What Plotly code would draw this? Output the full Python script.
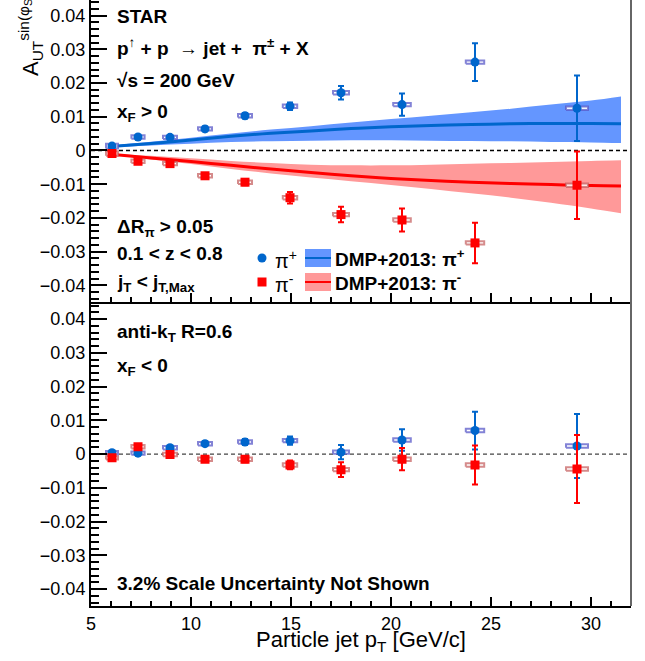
import plotly.graph_objects as go

# ---------------- data ----------------
pt = [6.05, 7.35, 8.95, 10.7, 12.7, 14.95, 17.5, 20.55, 24.2, 29.3]
pt_sys = [0.30, 0.33, 0.35, 0.35, 0.35, 0.36, 0.40, 0.44, 0.46, 0.55]

# x_F > 0
top_pip = [0.0013, 0.0040, 0.0039, 0.0064, 0.0103, 0.0131, 0.0171, 0.0136, 0.0262, 0.0125]
top_pip_stat = [0.0006, 0.0006, 0.0006, 0.0007, 0.0008, 0.0011, 0.0020, 0.0033, 0.0056, 0.0097]
top_pip_sys = [0.0007, 0.0005, 0.0005, 0.0005, 0.0005, 0.0005, 0.0005, 0.0005, 0.0005, 0.0005]
top_pim = [-0.0009, -0.0032, -0.0039, -0.0075, -0.0094, -0.0140, -0.0190, -0.0206, -0.0274, -0.0103]
top_pim_stat = [0.0006, 0.0006, 0.0007, 0.0008, 0.0009, 0.0017, 0.0023, 0.0034, 0.0060, 0.0100]
top_pim_sys = [0.0007, 0.0005, 0.0005, 0.0005, 0.0005, 0.0005, 0.0005, 0.0005, 0.0005, 0.0005]

# x_F < 0
bot_pip = [0.0004, 0.0003, 0.0019, 0.0031, 0.0036, 0.0040, 0.0006, 0.0042, 0.0070, 0.0024]
bot_pip_stat = [0.0006, 0.0006, 0.0006, 0.0007, 0.0009, 0.0012, 0.0021, 0.0032, 0.0056, 0.0095]
bot_pip_sys = [0.0005, 0.0005, 0.0005, 0.0005, 0.0005, 0.0005, 0.0005, 0.0005, 0.0005, 0.0005]
bot_pim = [-0.0011, 0.0022, -0.0001, -0.0015, -0.0015, -0.0032, -0.0046, -0.0015, -0.0032, -0.0044]
bot_pim_stat = [0.0006, 0.0006, 0.0007, 0.0008, 0.0009, 0.0013, 0.0022, 0.0033, 0.0058, 0.0101]
bot_pim_sys = [0.0005, 0.0005, 0.0005, 0.0005, 0.0005, 0.0005, 0.0005, 0.0005, 0.0005, 0.0005]

# DMP+2013 theory
th_x = [6, 8, 10, 12, 14, 16, 18, 20, 22, 24, 26, 28, 30, 31.5]
th_pip = [0.0012, 0.0021, 0.0031, 0.0042, 0.0051, 0.0058, 0.0065, 0.0070, 0.0074, 0.0077, 0.0079, 0.0080, 0.0080, 0.0079]
th_pip_hi = [0.0015, 0.0026, 0.0038, 0.0050, 0.0062, 0.0072, 0.0083, 0.0093, 0.0103, 0.0113, 0.0124, 0.0136, 0.0148, 0.0160]
th_pip_lo = [0.0010, 0.0015, 0.0020, 0.0025, 0.0027, 0.0029, 0.0030, 0.0030, 0.0029, 0.0028, 0.0027, 0.0025, 0.0024, 0.0022]
th_pim = [-0.0011, -0.0022, -0.0033, -0.0044, -0.0055, -0.0065, -0.0075, -0.0083, -0.0089, -0.0094, -0.0098, -0.0101, -0.0104, -0.0105]
th_pim_hi = [-0.0009, -0.0016, -0.0023, -0.0031, -0.0037, -0.0042, -0.0044, -0.0044, -0.0042, -0.0039, -0.0037, -0.0034, -0.0031, -0.0029]
th_pim_lo = [-0.0013, -0.0027, -0.0040, -0.0055, -0.0068, -0.0080, -0.0091, -0.0102, -0.0114, -0.0127, -0.0140, -0.0155, -0.0172, -0.0186]

# ---------------- styles ----------------
BLUE = "rgb(0,102,204)"
RED = "rgb(255,0,0)"
BLUE_BAND = "rgb(100,150,255)"
RED_BAND = "rgb(255,153,153)"
BLUE_BOX = "rgba(90,90,200,0.75)"
RED_BOX = "rgba(195,90,90,0.7)"
FONT = "Liberation Sans"

W, H = 645, 661
L, R, T, B = 91, 14, 0, 55
PW, PH = W - L - R, H - T - B
SPLIT = 303.7 / PH


def fx(p):
    return (p - L) / PW


def fy(p):
    return (PH + T - p) / PH


fig = go.Figure()


def box_trace(xs, ys, dx, dy, color, xa, ya):
    bx, by = [], []
    for x, y, w, h in zip(xs, ys, dx, dy):
        bx += [x - w, x + w, x + w, x - w, x - w, None]
        by += [y - h, y - h, y + h, y + h, y - h, None]
    return go.Scatter(x=bx, y=by, mode="lines", fill="toself", fillcolor="rgba(255,255,255,0.9)",
                      line=dict(color=color, width=2), xaxis=xa, yaxis=ya,
                      hoverinfo="skip", showlegend=False)


def pts_trace(ys, err, color, symbol, xa, ya):
    return go.Scatter(x=pt, y=ys, mode="markers", xaxis=xa, yaxis=ya,
                      marker=dict(color=color, symbol=symbol, size=9, line=dict(width=0)),
                      error_y=dict(type="data", array=err, color=color, thickness=2, width=3),
                      showlegend=False)


# theory bands (top panel)
for lo, hi, c in [(th_pip_lo, th_pip_hi, BLUE_BAND), (th_pim_lo, th_pim_hi, RED_BAND)]:
    fig.add_trace(go.Scatter(x=th_x, y=lo, mode="lines", line=dict(width=0, shape="spline"),
                             xaxis="x2", yaxis="y2", showlegend=False, hoverinfo="skip"))
    fig.add_trace(go.Scatter(x=th_x, y=hi, mode="lines", line=dict(width=0, shape="spline"),
                             fill="tonexty", fillcolor=c, xaxis="x2", yaxis="y2",
                             showlegend=False, hoverinfo="skip"))
for ys, c in [(th_pip, BLUE), (th_pim, RED)]:
    fig.add_trace(go.Scatter(x=th_x, y=ys, mode="lines", line=dict(color=c, width=3, shape="spline"),
                             xaxis="x2", yaxis="y2", showlegend=False, hoverinfo="skip"))

# data, top panel
fig.add_trace(box_trace(pt, top_pip, pt_sys, top_pip_sys, BLUE_BOX, "x2", "y2"))
fig.add_trace(pts_trace(top_pip, top_pip_stat, BLUE, "circle", "x2", "y2"))
fig.add_trace(box_trace(pt, top_pim, pt_sys, top_pim_sys, RED_BOX, "x2", "y2"))
fig.add_trace(pts_trace(top_pim, top_pim_stat, RED, "square", "x2", "y2"))

# data, bottom panel
fig.add_trace(box_trace(pt, bot_pip, pt_sys, bot_pip_sys, BLUE_BOX, "x", "y"))
fig.add_trace(pts_trace(bot_pip, bot_pip_stat, BLUE, "circle", "x", "y"))
fig.add_trace(box_trace(pt, bot_pim, pt_sys, bot_pim_sys, RED_BOX, "x", "y"))
fig.add_trace(pts_trace(bot_pim, bot_pim_stat, RED, "square", "x", "y"))

tickfont = dict(family=FONT, size=18, color="black")
xcommon = dict(range=[5, 32], showline=True, linecolor="black", linewidth=2, ticks="inside",
               ticklen=9, tickwidth=1.5, tickcolor="black", tick0=5, dtick=5,
               minor=dict(dtick=1, ticks="inside", ticklen=5, tickwidth=1.5, tickcolor="black"),
               showgrid=False, zeroline=False, tickfont=tickfont)
ycommon = dict(showline=True, linecolor="black", linewidth=2, ticks="inside", ticklen=16,
               tickwidth=1.5, tickcolor="black", tick0=0, dtick=0.01,
               minor=dict(dtick=0.002, ticks="inside", ticklen=8, tickwidth=1.5, tickcolor="black"),
               showgrid=False, zeroline=False, tickfont=tickfont)

fig.update_layout(
    width=W, height=H, margin=dict(l=L, r=R, t=T, b=B),
    paper_bgcolor="white", plot_bgcolor="white", showlegend=False, hovermode=False,
    xaxis=dict(domain=[0, 1], anchor="y", **xcommon),
    xaxis2=dict(domain=[0, 1], anchor="y2", matches="x", showticklabels=False, **xcommon),
    yaxis=dict(domain=[0, SPLIT], anchor="x", range=[-0.045, 0.045], **ycommon),
    yaxis2=dict(domain=[SPLIT, 1], anchor="x2", range=[-0.045, 0.0446], **ycommon),
)

shapes = [
    dict(type="line", xref="paper", yref="paper", x0=1, x1=1, y0=0, y1=1,
         line=dict(color="#666666", width=2), layer="above"),
    dict(type="line", xref="x2", yref="y2", x0=5, x1=32, y0=0, y1=0,
         line=dict(color="black", width=1.3, dash="4px,3px"), layer="below"),
    dict(type="line", xref="x", yref="y", x0=5, x1=32, y0=0, y1=0,
         line=dict(color="#444444", width=1.3, dash="4px,3px"), layer="below"),
]

# legend (drawn manually)
def rect_px(x0, y0, x1, y1, **kw):
    return dict(type="rect", xref="paper", yref="paper", x0=fx(x0), x1=fx(x1), y0=fy(y1), y1=fy(y0), **kw)

shapes.append(dict(type="circle", xref="paper", yref="paper", x0=fx(257.5), x1=fx(266.5),
                   y0=fy(262.5), y1=fy(253.5), fillcolor=BLUE, line=dict(width=0)))
shapes.append(rect_px(257.5, 277.5, 266.5, 286.5, fillcolor=RED, line=dict(width=0)))
shapes.append(rect_px(305, 249, 331, 267, fillcolor=BLUE_BAND, line=dict(width=0)))
shapes.append(dict(type="line", xref="paper", yref="paper", x0=fx(305), x1=fx(331), y0=fy(258), y1=fy(258),
                   line=dict(color=BLUE, width=2)))
shapes.append(rect_px(305, 273, 331, 291, fillcolor=RED_BAND, line=dict(width=0)))
shapes.append(dict(type="line", xref="paper", yref="paper", x0=fx(305), x1=fx(331), y0=fy(282), y1=fy(282),
                   line=dict(color=RED, width=2)))
fig.update_layout(shapes=shapes)

ann = []


def text(x, y, s, size=19, bold=True, **kw):
    ann.append(dict(xref="paper", yref="paper", x=fx(x), y=fy(y), text=("<b>%s</b>" % s) if bold else s,
                    showarrow=False, xanchor=kw.pop("xanchor", "left"), yanchor=kw.pop("yanchor", "middle"),
                    font=dict(family=FONT, size=size, color="black"), **kw))


text(115, 17, "STAR")
text(115, 47, "p<sup>↑</sup> + p  → jet +  π<sup>±</sup> + X")
text(115, 80, "√s = 200 GeV")
text(115, 113, "x<sub>F</sub> &gt; 0")
text(115, 228, "ΔR<sub>π</sub> &gt; 0.05")
text(115, 253, "0.1 &lt; z &lt; 0.8")
text(115, 283, "j<sub>T</sub> &lt; j<sub>T,Max</sub>")
text(115, 333, "anti-k<sub>T</sub> R=0.6")
text(115, 367, "x<sub>F</sub> &lt; 0")
text(115, 583, "3.2% Scale Uncertainty Not Shown")
text(273, 259, "π<sup>+</sup>", size=20, bold=False)
text(273, 283, "π<sup>-</sup>", size=20, bold=False)
text(333, 258, "DMP+2013: π<sup>+</sup>")
text(333, 282, "DMP+2013: π<sup>-</sup>")
text(361, 625, "Particle jet p<sub>T</sub> [GeV/c]", size=22, bold=False, xanchor="center", yanchor="top")
text(30, 78, "A<sub>UT</sub><sup>sin(φ<sub>S</sub> - φ<sub>H</sub>)</sup>", size=22, bold=False,
     xanchor="center", yanchor="bottom", textangle=-90)
fig.update_layout(annotations=ann)

fig.write_html("out.html")
